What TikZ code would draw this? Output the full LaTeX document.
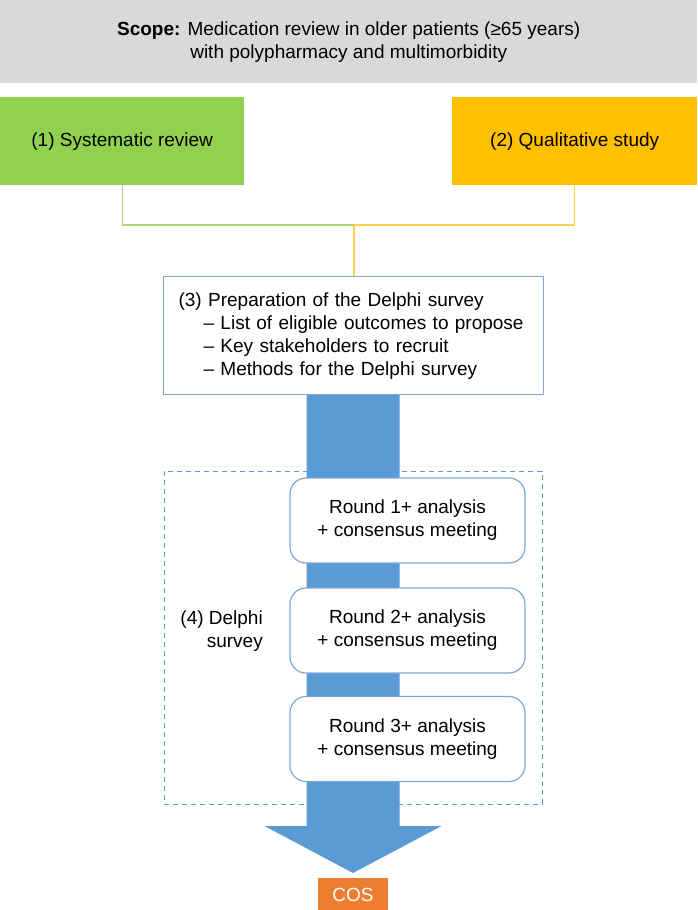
\documentclass[tikz,border=0pt]{standalone}
\usepackage{fontspec}
\setmainfont{Liberation Sans}
\definecolor{scopegray}{HTML}{D9D9D9}
\definecolor{srgreen}{HTML}{92D050}
\definecolor{qsorange}{HTML}{FFC000}
\definecolor{linegreen}{HTML}{A8D872}
\definecolor{lineyellow}{HTML}{FFD24D}
\definecolor{boxblue}{HTML}{7EA6D6}
\definecolor{arrowblue}{HTML}{5B9BD5}
\definecolor{cosorange}{HTML}{ED7D31}
\begin{document}
\begin{tikzpicture}[x=1pt,y=-1pt,
  every node/.style={font=\fontsize{19}{23}\selectfont, inner sep=0pt},
  colorbox/.style={minimum width=244pt, minimum height=88pt, anchor=north west},
  roundbox/.style={draw=boxblue, line width=1.2pt, fill=white, rounded corners=16pt,
    minimum width=235pt, minimum height=85pt, align=center},
  conn/.style={line width=1.3pt}]
\useasboundingbox (0,0) rectangle (697,910);
% scope
\node[fill=scopegray, minimum width=697pt, minimum height=83pt, anchor=north west, align=center] (scope) at (0,0)
  {\textbf{Scope:} Medication review in older patients (≥65 years)\\with polypharmacy and multimorbidity};
% two sources
\node[colorbox, fill=srgreen] (sr) at (0,97) {(1) Systematic review};
\node[colorbox, fill=qsorange, minimum width=245pt] (qs) at (452,97) {(2) Qualitative study};
% dashed Delphi frame
\node[draw=arrowblue, line width=1pt, dash pattern=on 5pt off 4pt, minimum width=378pt, minimum height=333pt] (frame) at (353,637.5) {};
\node[anchor=east, align=right] (delphi) at (263,631) {(4) Delphi\\survey};
% big arrow
\coordinate (sl) at (306.5,390);
\coordinate (sr2) at (399.5,390);
\coordinate (tip) at (353,873);
\fill[arrowblue] (sl) -- (sr2) -- (399.5,826) -- (441.5,826) -- (tip) -- (264.5,826) -- (306.5,826) -- cycle;
% preparation box
\node[draw=boxblue, line width=1.2pt, fill=white, anchor=north west, text width=350pt, inner xsep=15pt,
  minimum height=118pt, align=left] (prep) at (163,276)
  {(3) Preparation of the Delphi survey\\
   \hspace*{25pt}– List of eligible outcomes to propose\\
   \hspace*{25pt}– Key stakeholders to recruit\\
   \hspace*{25pt}– Methods for the Delphi survey};
% connectors
\coordinate (join) at (354,225);
\draw[conn, linegreen] (sr.south) |- (join);
\draw[conn, lineyellow] (qs.south) |- (join);
\draw[conn, lineyellow] (join) -- (join |- prep.north);
% rounds
\node[roundbox] (r1) at (407.5,520.5) {Round 1+ analysis\\+ consensus meeting};
\node[roundbox] (r2) at (407.5,630.5) {Round 2+ analysis\\+ consensus meeting};
\node[roundbox] (r3) at (407.5,739) {Round 3+ analysis\\+ consensus meeting};
% COS
\node[fill=cosorange, text=white, minimum width=70pt, minimum height=34pt] (cos) at (353,895) {COS};
\end{tikzpicture}
\end{document}
